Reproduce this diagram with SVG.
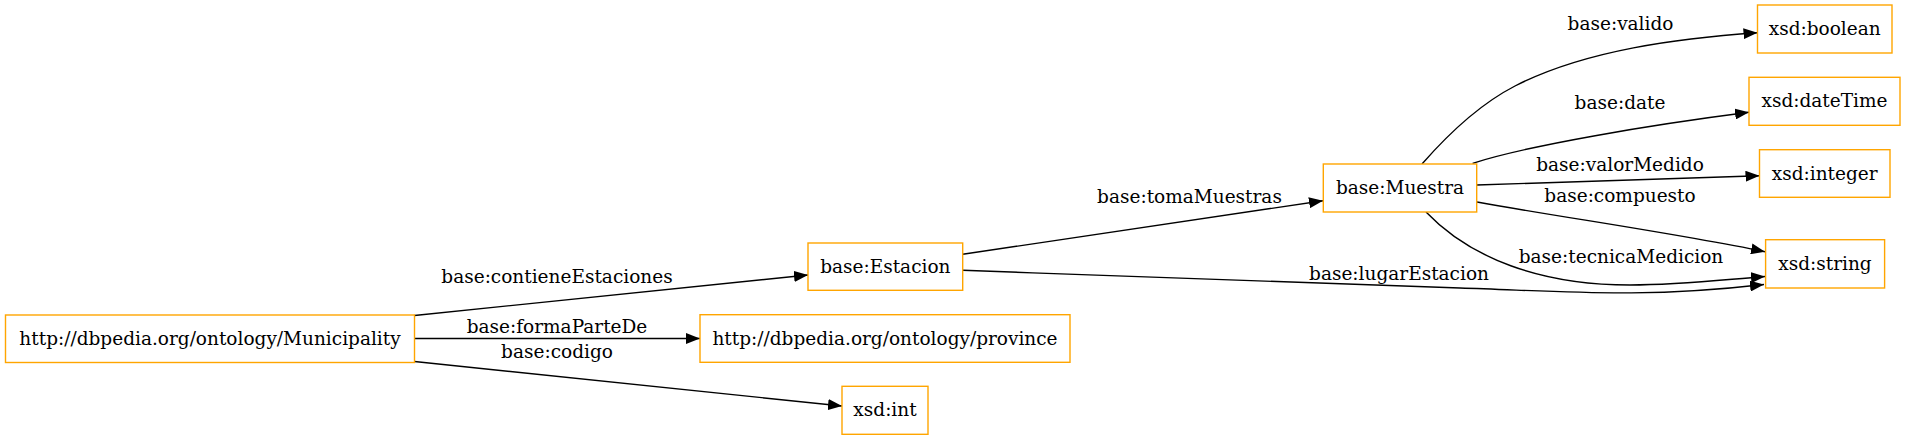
<svg xmlns="http://www.w3.org/2000/svg" width="1905" height="440" viewBox="0 0 1905 440">
<style>
.node rect{fill:#fff;stroke:#FFA500;stroke-width:1.4}
text{font-family:"DejaVu Serif","Liberation Serif",serif;font-size:18.5px;fill:#000;text-anchor:middle}
.edge path{fill:none;stroke:#000;stroke-width:1.4}
</style>
<defs>
<marker id="arr" markerUnits="userSpaceOnUse" markerWidth="14" markerHeight="11" refX="14" refY="5.5" orient="auto">
<path d="M0,0 L14,5.5 L0,11 z" fill="#000"/>
</marker>
</defs>
<rect width="1905" height="440" fill="#fff"/>
<g id="edges" class="edge">
<path d="M414.5,315.5 L808,275" marker-end="url(#arr)"/>
<text x="557" y="283">base:contieneEstaciones</text>
<path d="M414.5,338.5 L700,338.5" marker-end="url(#arr)"/>
<text x="557" y="333">base:formaParteDe</text>
<path d="M414.5,361.5 L842,406" marker-end="url(#arr)"/>
<text x="557" y="358">base:codigo</text>
<path d="M962.7,254.3 L1323,200.7" marker-end="url(#arr)"/>
<text x="1189.5" y="202.5">base:tomaMuestras</text>
<path d="M962.7,270.3 C1150,277 1350,285 1460,288 C1560,291 1640,299 1764,284.5" marker-end="url(#arr)"/>
<text x="1399" y="280">base:lugarEstacion</text>
<path d="M1422,164 C1450,132 1480,104 1515,86 C1585,50 1680,38 1757.5,32.7" marker-end="url(#arr)"/>
<text x="1620.5" y="30">base:valido</text>
<path d="M1472.6,163.3 C1530,145 1650,125 1749,112.3" marker-end="url(#arr)"/>
<text x="1620" y="109">base:date</text>
<path d="M1476.7,185 L1759.5,175.7" marker-end="url(#arr)"/>
<text x="1620" y="171">base:valorMedido</text>
<path d="M1477,202 C1560,217 1680,234 1765,251.7" marker-end="url(#arr)"/>
<text x="1620" y="201.5">base:compuesto</text>
<path d="M1426,212 C1470,258 1540,285 1630,285 C1680,285 1720,280 1765,276.5" marker-end="url(#arr)"/>
<text x="1621" y="262.5">base:tecnicaMedicion</text>
</g>
<g id="n_municipality" class="node"><rect x="5.5" y="315" width="409" height="47.5"/><text x="210" y="344.7">http://dbpedia.org/ontology/Municipality</text></g>
<g id="n_estacion" class="node"><rect x="808" y="243" width="154.7" height="47.3"/><text x="885.3" y="272.5">base:Estacion</text></g>
<g id="n_province" class="node"><rect x="700" y="314.7" width="370" height="47.6"/><text x="885" y="344.5">http://dbpedia.org/ontology/province</text></g>
<g id="n_int" class="node"><rect x="842" y="386.3" width="86" height="48"/><text x="885" y="416.3">xsd:int</text></g>
<g id="n_muestra" class="node"><rect x="1323.3" y="164" width="153.4" height="48"/><text x="1400" y="194">base:Muestra</text></g>
<g id="n_boolean" class="node"><rect x="1757.5" y="5" width="134.5" height="48"/><text x="1824.7" y="35">xsd:boolean</text></g>
<g id="n_datetime" class="node"><rect x="1749" y="77.3" width="151" height="48"/><text x="1824.5" y="107.3">xsd:dateTime</text></g>
<g id="n_integer" class="node"><rect x="1759.5" y="149.7" width="130.5" height="47.6"/><text x="1824.7" y="179.5">xsd:integer</text></g>
<g id="n_string" class="node"><rect x="1765.6" y="239.7" width="119" height="48.3"/><text x="1825" y="269.8">xsd:string</text></g>
</svg>
